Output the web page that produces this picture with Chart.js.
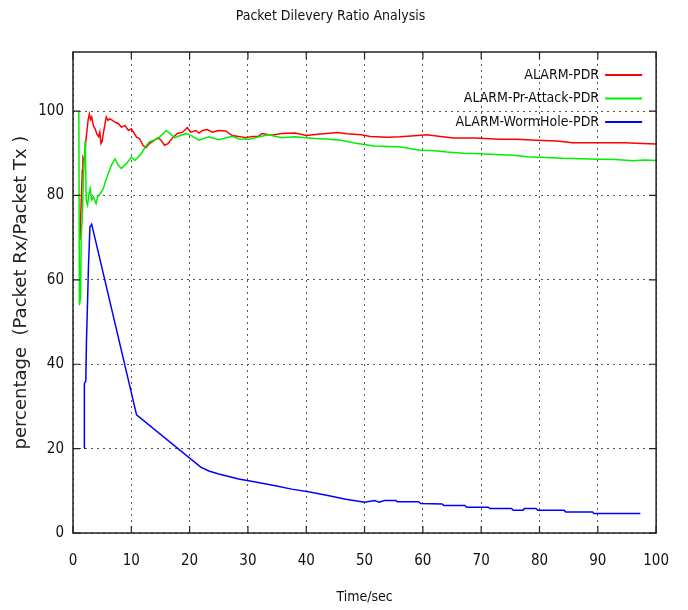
<!DOCTYPE html>
<html lang="en">
<head>
<meta charset="UTF-8">
<title>Packet Dilevery Ratio Analysis</title>
<style>
  body{margin:0;background:#fff;}
  #wrap{width:688px;height:610px;}
</style>
</head>
<body>
<div id="wrap"><canvas id="pdr" width="688" height="610"></canvas></div>
<script src="https://cdn.jsdelivr.net/npm/chart.js"></script>
<script>
// values
const seriesNames = ['ALARM-PDR', 'ALARM-Pr-Attack-PDR', 'ALARM-WormHole-PDR']
const seriesColors = ['#ff0000', '#00ee00', '#0000ff']

const pdrTime = [1.2, 1.25, 1.6, 1.7, 2.0, 2.2, 2.4, 2.6, 2.8, 3.0, 3.2, 3.5, 3.8, 4.1, 4.4, 4.6, 4.8, 5.0, 5.2, 5.5, 5.7, 6.0,
  6.3, 7.2, 7.8, 8.3, 8.9, 9.5, 10.0, 10.9, 11.4, 12.0, 12.5, 13.1, 14.0, 14.6, 15.1, 15.7, 16.3, 17.1, 17.9, 18.8,
  19.6, 20.2, 21.1, 21.6, 22.2, 23.0, 23.9, 25.0, 26.2, 27.3, 28.4, 29.6, 30.7, 31.8, 32.4, 34.0, 35.8, 38.1, 40.0,
  42.0, 45.4, 47.0, 49.4, 51.0, 53.9, 56.0, 58.0, 60.7, 63.0, 65.3, 69.0, 73.2, 76.0, 79.4, 83.0, 85.7, 90.0, 94.7, 97.6, 100]
const pdrValue = [69.5, 72, 86, 89, 88, 93, 95.4, 98, 99.3, 98.0, 98.6, 96.5, 95.8, 94.5, 93.9, 95.0, 92.3, 92.8, 94.7, 97.0, 98.6, 97.8,
  98.2, 97.4, 97.0, 96.2, 96.6, 95.4, 95.8, 93.8, 93.5, 91.9, 91.3, 92.3, 93.1, 93.7, 93.1, 91.9, 92.3, 93.7, 94.7, 95.0,
  96.1, 95.0, 95.4, 94.8, 95.4, 95.6, 95.0, 95.4, 95.3, 94.2, 94.0, 93.7, 94.0, 94.0, 94.7, 94.3, 94.7, 94.8, 94.2,
  94.5, 94.9, 94.6, 94.4, 94.0, 93.8, 93.9, 94.1, 94.4, 94.0, 93.6, 93.6, 93.3, 93.3, 93.1, 92.9, 92.5, 92.5, 92.5, 92.3, 92.2]

const attackTime = [1.0, 1.1, 1.3, 1.4, 1.6, 1.8, 2.1, 2.26, 2.5, 2.7, 2.94, 3.2, 3.5, 3.96, 4.2, 4.64, 5.2, 5.6, 6.05, 6.6, 7.2,
  7.75, 8.3, 9.2, 10.0, 10.6, 11.7, 12.4, 13.1, 14.6, 16.0, 17.4, 19.4, 20.5, 21.6, 23.3, 25.0, 27.3, 28.5, 30.1, 33.5,
  35.8, 38.0, 41.5, 44.0, 46.0, 48.5, 51.7, 54.0, 56.2, 59.6, 62.0, 64.1, 67.0, 69.8, 72.5, 75.5, 78.0, 81.1, 84.0, 87.0,
  90.2, 93.0, 96.0, 98.0, 100]
const attackValue = [100, 54, 56, 70, 75, 85, 93, 78.9, 77.7, 80.0, 81.6, 79.0, 79.6, 78.1, 79.6, 80.4, 81.6, 83.5, 85.2, 87.2, 88.7,
  87.2, 86.4, 87.6, 89.1, 88.3, 89.9, 91.5, 92.7, 93.5, 95.4, 93.7, 94.7, 94.0, 93.1, 93.9, 93.2, 94.0, 93.4, 93.3, 94.4,
  93.7, 93.9, 93.5, 93.3, 93.1, 92.4, 91.7, 91.6, 91.5, 90.7, 90.6, 90.3, 90.0, 89.9, 89.7, 89.5, 89.2, 89.0, 88.8, 88.7,
  88.6, 88.5, 88.2, 88.4, 88.3]

const wormTime = [1.9, 1.95, 2.2, 2.3, 2.5, 2.65, 2.9, 3.2, 10.9, 21.9, 23.3, 25.0, 26.7, 28.4, 31.3, 34.7, 37.5, 40.6, 43.7,
  46.8, 50.0, 51.7, 52.5, 53.4, 55.4, 55.6, 59.3, 59.6, 63.3, 63.6, 67.2, 67.5, 71.2, 71.5, 75.2, 75.5, 77.2, 77.4,
  79.4, 79.7, 84.2, 84.5, 89.1, 89.3, 97.3]
const wormValue = [20.1, 35.5, 36, 45, 55, 63.1, 72.5, 73.2, 28.0, 15.6, 14.7, 14.0, 13.4, 12.8, 12.1, 11.2, 10.4, 9.7, 8.9,
  8.0, 7.3, 7.7, 7.3, 7.7, 7.7, 7.4, 7.4, 7.0, 6.9, 6.5, 6.5, 6.1, 6.1, 5.8, 5.8, 5.4, 5.4, 5.8,
  5.8, 5.4, 5.4, 5.0, 5.0, 4.6, 4.6]

const xTicks = [0, 10, 20, 30, 40, 50, 60, 70, 80, 90, 100]
const yTicks = [0, 20, 40, 60, 80, 100]

const narrow = '"Liberation Sans Narrow", "DejaVu Sans Condensed", sans-serif'

function pts(ts, vs){ return ts.map((t,i)=>({x:t, y:vs[i]})) }

// gnuplot style frame, inward ticks and legend at top right
const gnuFrame = {
  id:'gnuFrame',
  afterDraw(chart){
    const c = chart.ctx, a = chart.chartArea
    const xs = chart.scales.x, ys = chart.scales.y
    c.save()
    c.strokeStyle = '#222'
    c.lineWidth = 1.5
    c.strokeRect(a.left, a.top, a.right-a.left, a.bottom-a.top)
    c.lineWidth = 1.2
    c.beginPath()
    xTicks.forEach(v=>{
      const px = xs.getPixelForValue(v)
      c.moveTo(px, a.bottom); c.lineTo(px, a.bottom-7)
      c.moveTo(px, a.top); c.lineTo(px, a.top+7)
    })
    yTicks.forEach(v=>{
      const py = ys.getPixelForValue(v)
      c.moveTo(a.left, py); c.lineTo(a.left+7, py)
      c.moveTo(a.right, py); c.lineTo(a.right-7, py)
    })
    c.stroke()

    c.font = '14px ' + narrow
    c.textAlign = 'right'
    c.textBaseline = 'middle'
    chart.data.datasets.forEach((ds,i)=>{
      const y = a.top + 23 + i*23.5
      c.fillStyle = '#111'
      c.fillText(ds.label, a.right-57, y)
      c.strokeStyle = ds.borderColor
      c.lineWidth = 2
      c.beginPath(); c.moveTo(a.right-51, y); c.lineTo(a.right-14, y); c.stroke()
    })
    c.restore()
  }
}

const cfg = {
  type:'line',
  data:{datasets:[
    {label:seriesNames[0], data:pts(pdrTime, pdrValue), borderColor:seriesColors[0], order:3},
    {label:seriesNames[1], data:pts(attackTime, attackValue), borderColor:seriesColors[1], order:2},
    {label:seriesNames[2], data:pts(wormTime, wormValue), borderColor:seriesColors[2], order:1}
  ]},
  options:{
    responsive:false,
    animation:false,
    layout:{padding:{top:0, right:27, left:0, bottom:0}},
    elements:{
      line:{borderWidth:1.5, tension:0, fill:false},
      point:{radius:0}
    },
    plugins:{
      legend:{display:false},
      tooltip:{enabled:false},
      title:{display:true, text:'Packet Dilevery Ratio Analysis', color:'#111',
        font:{family:narrow, size:14, weight:'normal'}, padding:{top:8, bottom:27.2}}
    },
    scales:{
      x:{type:'linear', min:0, max:100,
        afterBuildTicks: s=>{ s.ticks = xTicks.map(v=>({value:v})) },
        afterFit: s=>{ s.height = 77 },
        grid:{color:'#555', lineWidth:1, drawTicks:false},
        border:{display:false, dash:[2,4]},
        ticks:{color:'#111', padding:19, font:{family:narrow, size:15}, maxRotation:0},
        title:{display:true, text:'Time/sec', color:'#111', font:{family:narrow, size:14}, padding:{bottom:4}}
      },
      y:{type:'linear', min:0, max:114,
        afterBuildTicks: s=>{ s.ticks = yTicks.map(v=>({value:v})) },
        afterFit: s=>{ s.width = 73 },
        grid:{color:'#555', lineWidth:1, drawTicks:false},
        border:{display:false, dash:[2,4]},
        ticks:{color:'#111', padding:9, font:{family:narrow, size:15}},
        title:{display:true, text:'percentage  (Packet Rx/Packet Tx )', color:'#222',
          font:{family:'"DejaVu Sans", sans-serif', size:18}, padding:{top:11}}
      }
    }
  },
  plugins:[gnuFrame]
}

new Chart(document.getElementById('pdr'), cfg)
</script>
</body>
</html>
